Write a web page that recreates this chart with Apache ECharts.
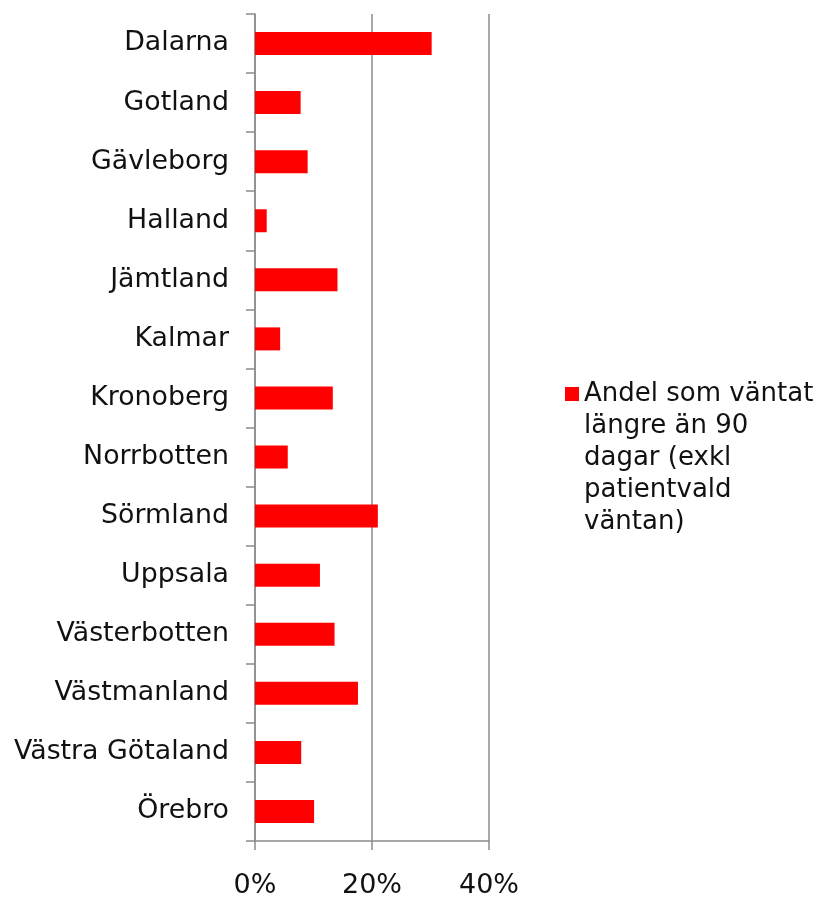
<!DOCTYPE html>
<html>
<head>
<meta charset="utf-8">
<script src="https://cdn.jsdelivr.net/npm/echarts@6/dist/echarts.min.js"></script>
<style>
  html, body { margin: 0; padding: 0; background: #fff; }
  #chart { width: 825px; height: 899px; }
</style>
</head>
<body>
<div id="chart"></div>
<script>
// regioner, uppifrån och ned
const regions = [
  'Dalarna', 'Gotland', 'Gävleborg', 'Halland', 'Jämtland', 'Kalmar', 'Kronoberg',
  'Norrbotten', 'Sörmland', 'Uppsala', 'Västerbotten', 'Västmanland', 'Västra Götaland', 'Örebro'
]
// andel (%) som väntat längre än 90 dagar
const shareOver90 = [30.2, 7.8, 9.0, 2.0, 14.1, 4.3, 13.3, 5.6, 21.0, 11.1, 13.6, 17.6, 7.9, 10.1]
const xTicks = [0, 20, 40]
const seriesName = 'Andel som väntat längre än 90 dagar (exkl patientvald väntan)'
const legendLines = ['Andel som väntat', 'längre än 90', 'dagar (exkl', 'patientvald', 'väntan)']

const chart = echarts.init(document.getElementById('chart'))
const axisGray = '#8c8c8c'
const font = 'DejaVu Sans, Verdana, sans-serif'

// legendtexten centreras mot ikonen, så tomma rader före gör att första raden hamnar vid ikonen
const legendText = () => {
  const pad = new Array(legendLines.length - 1).fill(' ')
  return pad.concat(legendLines).join('\n')
}

chart.setOption({
  animation: false,
  textStyle: { fontFamily: font },
  grid: { left: 255, right: 336, top: 14, bottom: 57, containLabel: false },
  legend: {
    orient: 'vertical',
    left: 565,
    top: 250,
    padding: 0,
    icon: 'rect',
    itemWidth: 14,
    itemHeight: 14,
    itemGap: 0,
    data: [seriesName],
    formatter: legendText,
    textStyle: {
      fontFamily: font,
      fontSize: 26,
      lineHeight: 32,
      color: '#111'
    }
  },
  xAxis: {
    type: 'value',
    min: xTicks[0],
    max: xTicks[xTicks.length - 1],
    interval: 20,
    axisLine: { show: true, lineStyle: { color: axisGray, width: 1.5 } },
    axisTick: { show: true, length: 9, lineStyle: { color: axisGray, width: 1.5 } },
    splitLine: { show: true, lineStyle: { color: axisGray, width: 1.5 } },
    axisLabel: {
      formatter: '{value}%',
      margin: 31,
      fontSize: 27,
      color: '#111',
      fontFamily: font
    }
  },
  yAxis: {
    type: 'category',
    inverse: true,
    data: regions,
    axisLine: { show: true, lineStyle: { color: axisGray, width: 1.5 } },
    axisTick: { show: true, length: 9, lineStyle: { color: axisGray, width: 1.5 } },
    axisLabel: {
      margin: 26,
      fontSize: 26.8,
      color: '#111',
      fontFamily: font
    }
  },
  series: [{
    name: seriesName,
    type: 'bar',
    data: shareOver90,
    barWidth: 23,
    itemStyle: { color: '#ff0000' }
  }]
})
</script>
</body>
</html>
